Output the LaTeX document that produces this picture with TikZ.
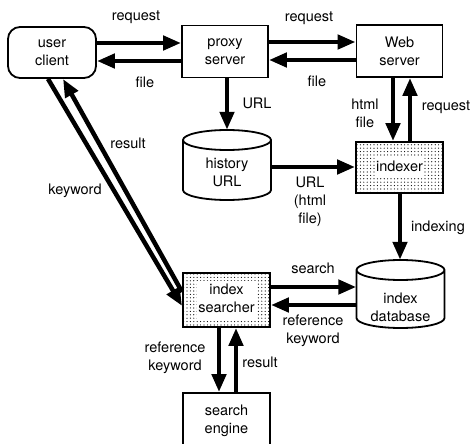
\documentclass[tikz,border=0pt]{standalone}
\usepackage{fontspec}
\setmainfont{TeX Gyre Heros}
\usetikzlibrary{arrows.meta,patterns}
\pgfdeclarepatternformonly{stipple}{\pgfqpoint{-1pt}{-1pt}}{\pgfqpoint{2pt}{2pt}}{\pgfqpoint{3.4pt}{3.4pt}}%
  {\pgfpathcircle{\pgfqpoint{0pt}{0pt}}{0.6pt}\pgfusepath{fill}}
% #1 node, #2 distance from node centre up to top ellipse centre, #3 distance down to bottom arc centre
\newcommand\cylout[3]{%
  \draw[line width=1.8pt] ([shift={(-44pt,#2)}]#1.center) -- ([shift={(-44pt,-#3)}]#1.center)
    arc[start angle=180,end angle=360,x radius=44pt,y radius=10pt]
    -- ([shift={(44pt,#2)}]#1.center)
    arc[start angle=0,end angle=360,x radius=44pt,y radius=10pt];}
\newcommand\halo[1]{\colorbox{white}{\begin{tabular}{@{}c@{}}#1\end{tabular}}}
\begin{document}
\begin{tikzpicture}[x=1pt,y=-1pt,
  box/.style={draw,line width=1.8pt,minimum width=86pt,minimum height=52pt,align=center,inner sep=0pt},
  rbox/.style={box,rounded corners=12pt},
  dotbox/.style={box,pattern=stipple},
  cylbox/.style={minimum width=88pt,align=center,inner sep=0pt},
  arr/.style={line width=4.5pt,-{Triangle[length=18pt,width=14pt]}},
  lbl/.style={align=center,inner sep=0pt},
  font=\fontsize{14.5}{18}\selectfont]
\useasboundingbox (0,0) rectangle (474,444);
\clip (0,0) rectangle (474,444);
\fill[white] (0,0) rectangle (474,444);
\setlength{\fboxsep}{1.5pt}
% nodes
\node[rbox,minimum width=88pt,minimum height=51pt] (uc) at (52,52.5) {user\\client};
\node[box] (px) at (225,51.5) {proxy\\server};
\node[box] (ws) at (399.5,51) {Web\\server};
\node[cylbox,minimum height=84pt] (hu) at (227,172) {history\\URL};
\cylout{hu}{32pt}{18pt}
\node[dotbox,minimum width=87pt,minimum height=51pt] (ix) at (399.5,167.5) {\halo{indexer}};
\node[cylbox,minimum height=94pt] (db) at (400.5,307) {index\\database};
\cylout{db}{37pt}{11pt}
\node[dotbox,minimum width=87pt,minimum height=54pt] (is) at (226.5,300) {\halo{index\\searcher}};
\node[box,minimum width=87pt,minimum height=56pt] (se) at (226.5,421) {search\\engine};
% connectors
\draw[arr] (uc.east |- 0,43) -- (px.west |- 0,43);
\draw[arr] (px.west |- 0,61) -- (uc.east |- 0,61);
\draw[arr] (px.east |- 0,42) -- (ws.west |- 0,42);
\draw[arr] (ws.west |- 0,60) -- (px.east |- 0,60);
\draw[arr] (px.south -| 227,0) -- (hu.north -| 227,0);
\draw[arr] (ws.south -| 393,0) -- (ix.north -| 393,0);
\draw[arr] (ix.north -| 410,0) -- (ws.south -| 410,0);
\draw[arr] (hu.east |- 0,167) -- (ix.west |- 0,167);
\draw[arr] (ix.south -| 400,0) -- (db.north -| 400,0);
\draw[arr] (is.east |- 0,287) -- (db.west |- 0,287);
\draw[arr] (db.west |- 0,305) -- (is.east |- 0,305);
\draw[arr] (is.south -| 219,0) -- (se.north -| 219,0);
\draw[arr] (se.north -| 236,0) -- (is.south -| 236,0);
\draw[arr] (uc.south -| 48,0) -- (is.west |- 0,306);
\draw[arr] (is.west |- 0,292) -- (uc.south -| 63,0);
% labels
\node[lbl] (l1) at (136,17) {request};
\node[lbl] (l2) at (145,82) {file};
\node[lbl] (l3) at (309,18) {request};
\node[lbl] (l4) at (317,81) {file};
\node[lbl] (l5) at (257,103) {URL};
\node[lbl] (l6) at (310,202) {URL\\(html\\file)};
\node[lbl] (l7) at (365,113) {html\\file};
\node[lbl] (l8) at (446,107) {request};
\node[lbl] (l9) at (438,228) {indexing};
\node[lbl] (l10) at (313,268) {search};
\node[lbl] (l11) at (313,331) {reference\\keyword};
\node[lbl] (l12) at (175,358) {reference\\keyword};
\node[lbl] (l13) at (260,362) {result};
\node[lbl] (l14) at (128,143) {result};
\node[lbl] (l15) at (75,191) {keyword};
\end{tikzpicture}
\end{document}
